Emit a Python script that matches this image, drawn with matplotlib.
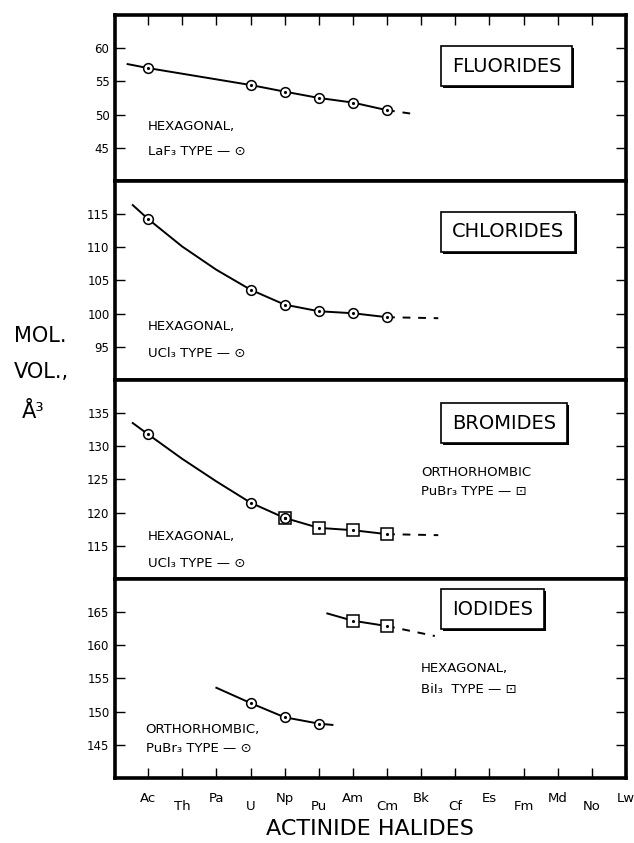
import matplotlib
matplotlib.use('Agg')
import matplotlib.pyplot as plt
import matplotlib.patheffects as pe

elements = ['Ac', 'Th', 'Pa', 'U', 'Np', 'Pu', 'Am', 'Cm', 'Bk', 'Cf', 'Es', 'Fm', 'Md', 'No', 'Lw']

# fluorides, hexagonal LaF3 type
fl_hex_el = ['Ac', 'U', 'Np', 'Pu', 'Am', 'Cm']
fl_hex_vol = [57.0, 54.45, 53.45, 52.5, 51.8, 50.65]
fl_curve_x = [-0.6, 0, 3, 4, 5, 6, 7]
fl_curve_y = [57.6, 57.0, 54.45, 53.45, 52.5, 51.8, 50.65]
fl_dash_x = [7, 7.75]
fl_dash_y = [50.65, 50.1]

# chlorides, hexagonal UCl3 type
cl_hex_el = ['Ac', 'U', 'Np', 'Pu', 'Am', 'Cm']
cl_hex_vol = [114.25, 103.6, 101.35, 100.35, 100.05, 99.45]
cl_curve_x = [-0.45, 0, 1, 2, 3, 4, 5, 6, 7]
cl_curve_y = [116.35, 114.25, 110.1, 106.6, 103.6, 101.35, 100.35, 100.05, 99.45]
cl_dash_x = [7, 8.5]
cl_dash_y = [99.45, 99.3]

# bromides, hexagonal UCl3 type + orthorhombic PuBr3 type
br_hex_el = ['Ac', 'U', 'Np']
br_hex_vol = [131.8, 121.5, 119.2]
br_orth_el = ['Np', 'Pu', 'Am', 'Cm']
br_orth_vol = [119.2, 117.7, 117.35, 116.75]
br_curve_x = [-0.45, 0, 1, 2, 3, 4, 5, 6, 7]
br_curve_y = [133.5, 131.8, 128.1, 124.7, 121.5, 119.2, 117.7, 117.35, 116.75]
br_dash_x = [7, 8.5]
br_dash_y = [116.75, 116.6]

# iodides, orthorhombic PuBr3 type + hexagonal BiI3 type
io_orth_el = ['U', 'Np', 'Pu']
io_orth_vol = [151.3, 149.15, 148.2]
io_orth_curve_x = [2.0, 3, 4, 5, 5.4]
io_orth_curve_y = [153.6, 151.3, 149.15, 148.2, 148.0]
io_hex_el = ['Am', 'Cm']
io_hex_vol = [163.7, 162.9]
io_hex_curve_x = [5.25, 6, 7]
io_hex_curve_y = [164.8, 163.7, 162.9]
io_dash_x = [7, 8.4]
io_dash_y = [162.9, 161.4]


def pos(names):
    return [elements.index(n) for n in names]


def markers(ax, names, vals, shape):
    ms = 7.0 if shape == 'o' else 8.0
    ax.plot(pos(names), vals, linestyle='none', marker=shape, ms=ms,
            mfc='white', mec='black', mew=1.1, zorder=3)
    ax.plot(pos(names), vals, linestyle='none', marker='.', ms=2.5,
            color='black', zorder=4)


def curve(ax, x, y, dashed=False):
    if dashed:
        ax.plot(x, y, color='black', lw=1.4, dashes=(4, 4), zorder=2)
    else:
        ax.plot(x, y, color='black', lw=1.4, zorder=2)


def setup(ax, ylim, yticks, name, box_y):
    ax.set_xlim(-0.97, 14)
    ax.set_ylim(*ylim)
    ax.set_yticks(yticks)
    ax.tick_params(axis='y', direction='in', length=7, width=1,
                   left=True, right=True, labelsize=8.5, pad=4)
    ax.set_xticks(range(0, 15, 2))
    ax.set_xticks(range(1, 15, 2), minor=True)
    ax.tick_params(axis='x', which='both', direction='in', length=7, width=1,
                   bottom=False, top=False, labelbottom=False)
    for s in ax.spines.values():
        s.set_linewidth(2.6)
    t = ax.text(8.9, box_y, name, fontsize=14, ha='left', va='center',
                bbox=dict(boxstyle='square,pad=0.55', fc='white', ec='black', lw=1.2))
    t.get_bbox_patch().set_path_effects(
        [pe.SimplePatchShadow(offset=(1.5, -1.5), shadow_rgbFace='black', alpha=1),
         pe.Normal()])


def note(ax, x, y, s):
    ax.text(x, y, s, fontsize=9.5, ha='left', va='center')


fig, axes = plt.subplots(4, 1, figsize=(6.34, 8.43), dpi=100,
                         gridspec_kw=dict(height_ratios=[25, 30, 30, 30], hspace=0))
fig.subplots_adjust(left=115 / 634, right=626 / 634, top=1 - 15 / 843, bottom=1 - 778 / 843)
ax_f, ax_c, ax_b, ax_i = axes

# fluorides
setup(ax_f, (40, 65), [45, 50, 55, 60], 'FLUORIDES', 57.3)
curve(ax_f, fl_curve_x, fl_curve_y)
curve(ax_f, fl_dash_x, fl_dash_y, dashed=True)
markers(ax_f, fl_hex_el, fl_hex_vol, 'o')
note(ax_f, 0, 48.2, 'HEXAGONAL,')
note(ax_f, 0, 44.4, 'LaF₃ TYPE — ⊙')

# chlorides
setup(ax_c, (90, 120), [95, 100, 105, 110, 115], 'CHLORIDES', 112.3)
curve(ax_c, cl_curve_x, cl_curve_y)
curve(ax_c, cl_dash_x, cl_dash_y, dashed=True)
markers(ax_c, cl_hex_el, cl_hex_vol, 'o')
note(ax_c, 0, 98.05, 'HEXAGONAL,')
note(ax_c, 0, 94.0, 'UCl₃ TYPE — ⊙')

# bromides
setup(ax_b, (110, 140), [115, 120, 125, 130, 135], 'BROMIDES', 133.5)
curve(ax_b, br_curve_x, br_curve_y)
curve(ax_b, br_dash_x, br_dash_y, dashed=True)
markers(ax_b, br_orth_el, br_orth_vol, 's')
markers(ax_b, br_hex_el, br_hex_vol, 'o')
note(ax_b, 0, 116.4, 'HEXAGONAL,')
note(ax_b, 0, 112.3, 'UCl₃ TYPE — ⊙')
note(ax_b, 8.0, 126.1, 'ORTHORHOMBIC')
note(ax_b, 8.0, 123.2, 'PuBr₃ TYPE — ⊡')

# iodides
setup(ax_i, (140, 170), [145, 150, 155, 160, 165], 'IODIDES', 165.45)
curve(ax_i, io_orth_curve_x, io_orth_curve_y)
curve(ax_i, io_hex_curve_x, io_hex_curve_y)
curve(ax_i, io_dash_x, io_dash_y, dashed=True)
markers(ax_i, io_orth_el, io_orth_vol, 'o')
markers(ax_i, io_hex_el, io_hex_vol, 's')
note(ax_i, 8.0, 156.5, 'HEXAGONAL,')
note(ax_i, 8.0, 153.4, 'BiI₃  TYPE — ⊡')
note(ax_i, -0.07, 147.3, 'ORTHORHOMBIC,')
note(ax_i, -0.07, 144.4, 'PuBr₃ TYPE — ⊙')

# top and bottom element ticks
ax_f.tick_params(axis='x', which='both', top=True)
ax_i.tick_params(axis='x', which='both', bottom=True, labelbottom=True, labelsize=9.5)
ax_i.tick_params(axis='x', which='major', pad=10)
ax_i.tick_params(axis='x', which='minor', pad=16)
ax_i.set_xticklabels(elements[0::2])
ax_i.set_xticklabels(elements[1::2], minor=True)

fig.text(370 / 634, 1 - 829 / 843, 'ACTINIDE HALIDES', fontsize=16,
         ha='center', va='center')

fig.text(14 / 634, 1 - 336 / 843, 'MOL.', fontsize=15, ha='left', va='center')
fig.text(14 / 634, 1 - 372 / 843, 'VOL.,', fontsize=15, ha='left', va='center')
fig.text(22 / 634, 1 - 412 / 843, 'Å³', fontsize=15, ha='left', va='center')

fig.savefig('out.png', dpi=100)
